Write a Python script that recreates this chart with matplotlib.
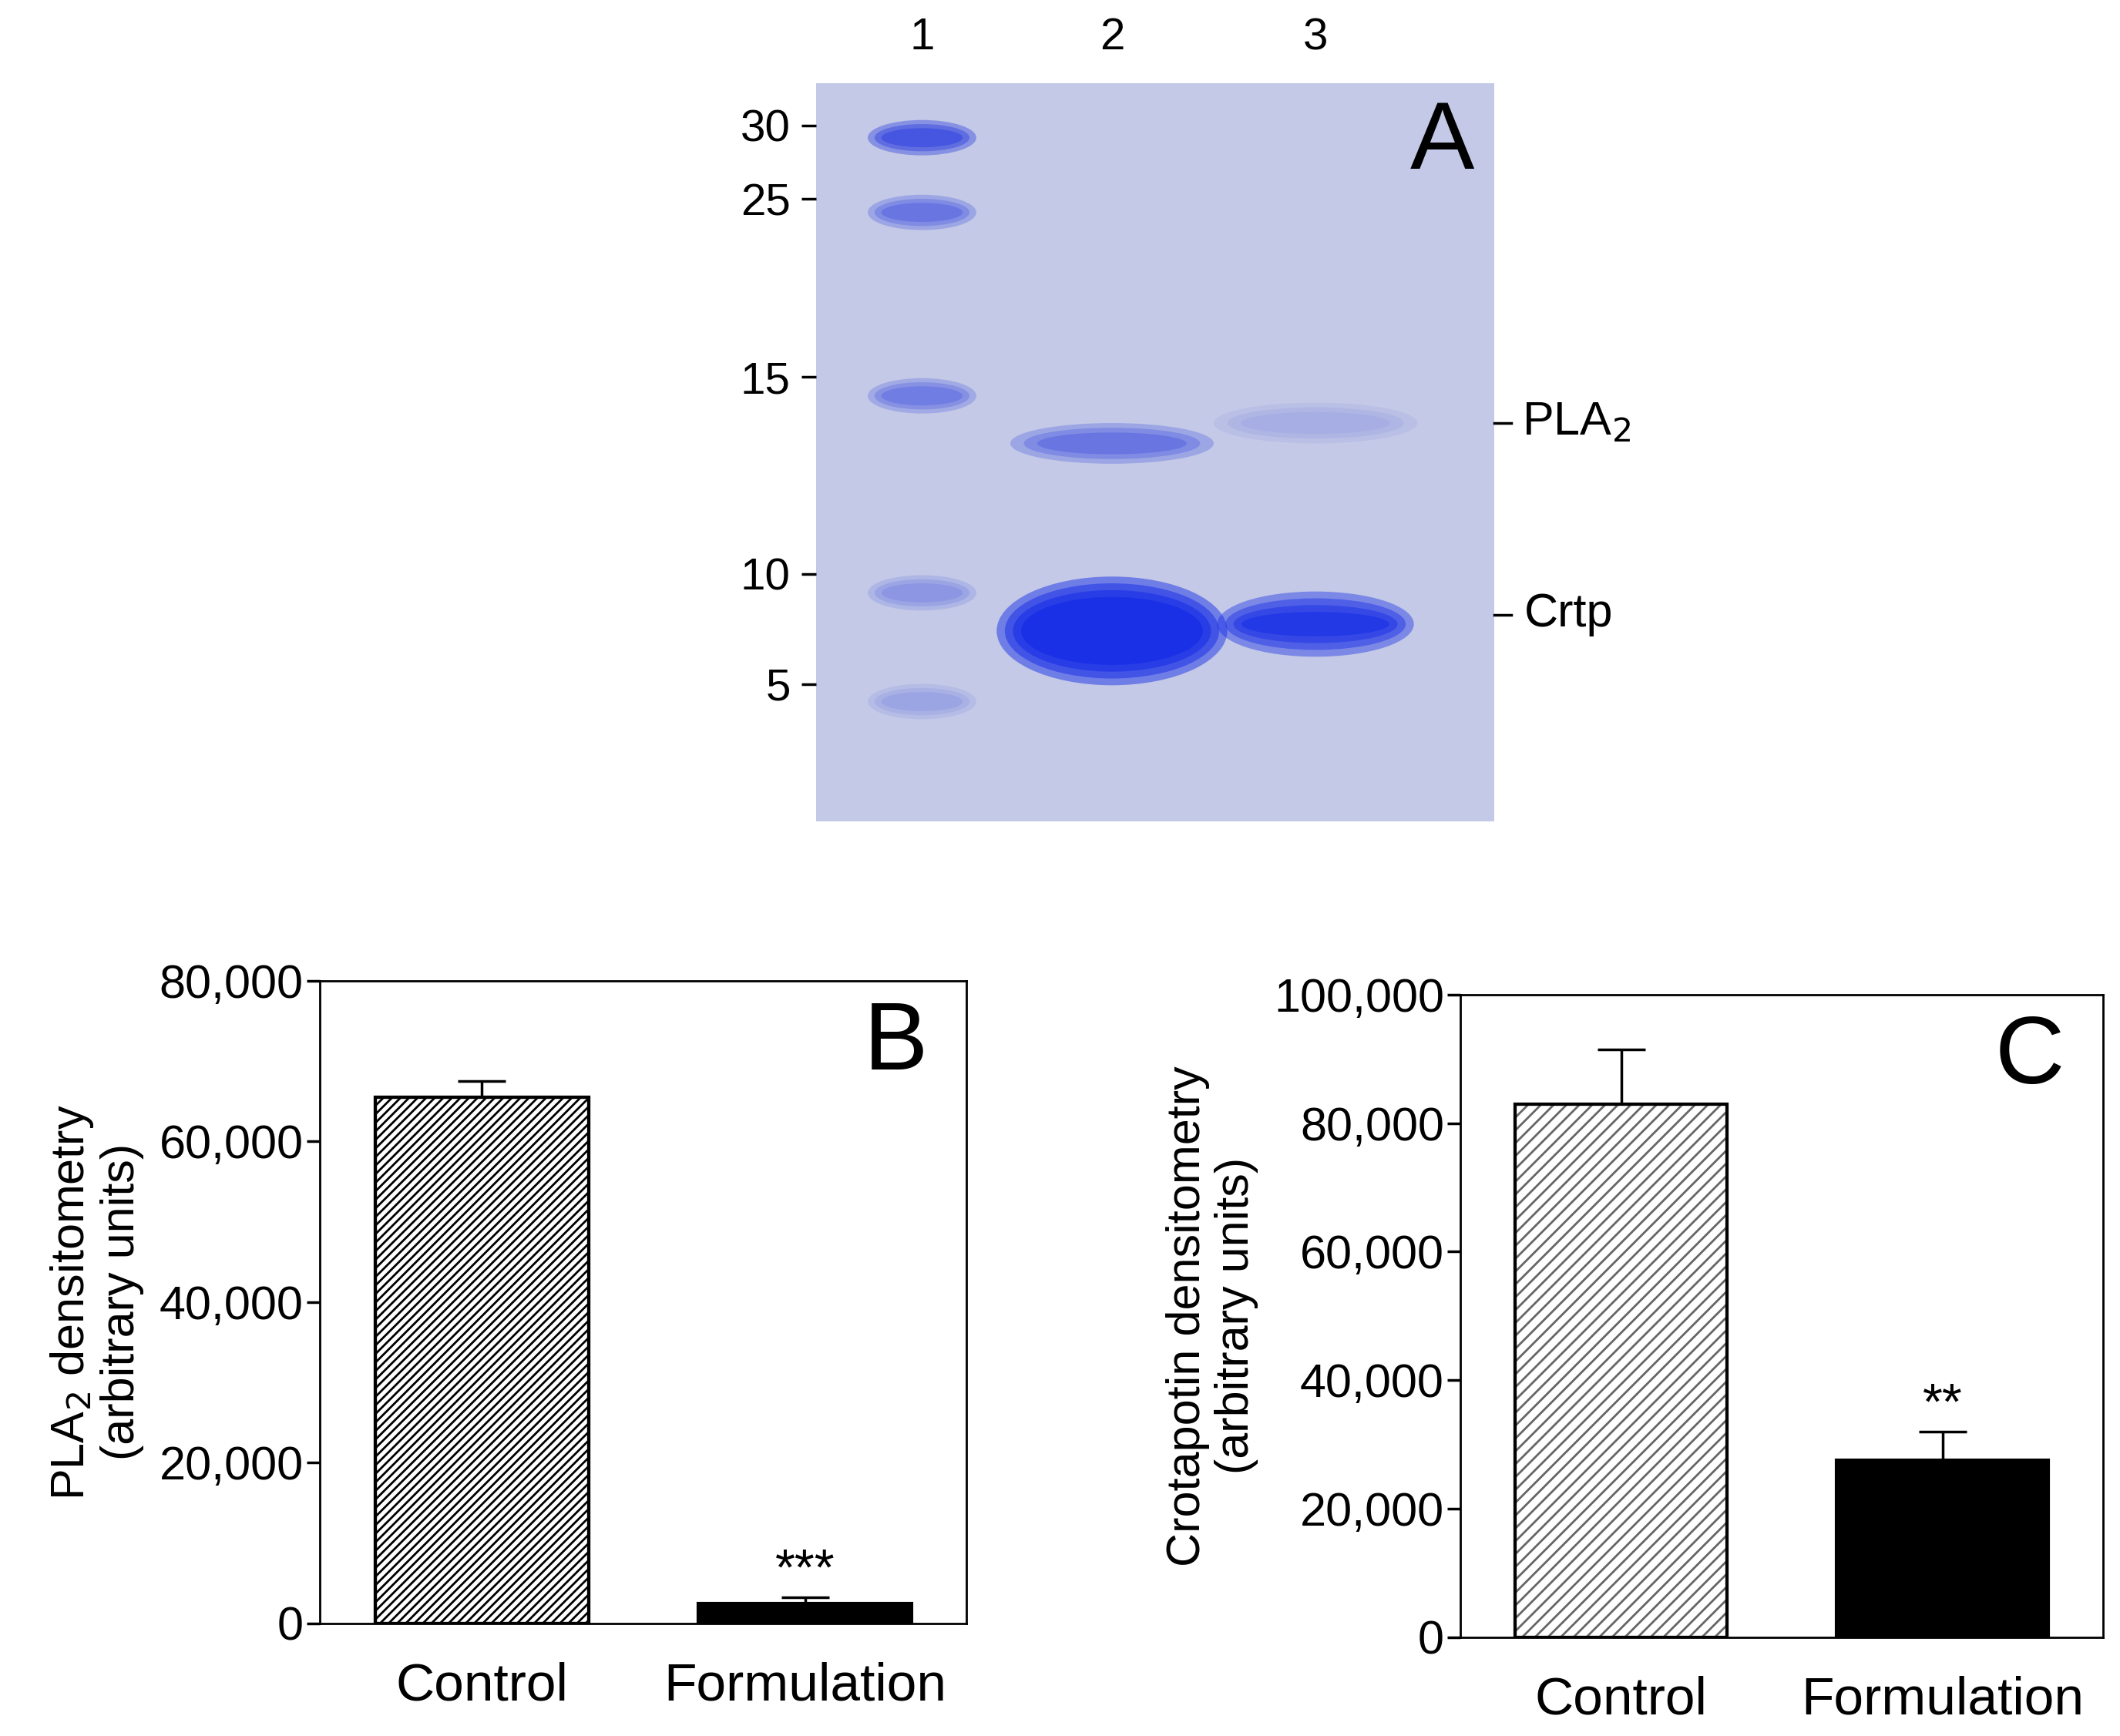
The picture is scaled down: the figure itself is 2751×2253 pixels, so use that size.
import matplotlib
matplotlib.use("Agg")
import matplotlib.pyplot as plt
from matplotlib.patches import Ellipse

plt.rcParams['font.family'] = ['Liberation Sans', 'DejaVu Sans']

# Gel data
marker_kda = [30, 25, 15, 10, 5]
marker_tick_y = [31, 85, 216, 361, 442]
lane_labels = ["1", "2", "3"]
lane_x = [78, 218, 368]
marker_band_y = [40, 95, 230, 375, 455]
marker_band_alpha = [0.9, 0.55, 0.5, 0.3, 0.2]
pla2_y = [265, 250]
pla2_alpha = [0.55, 0.15]
crtp_y = [403, 398]
crtp_alpha = [1.0, 0.85]

# Bar data
categories = ["Control", "Formulation"]
pla2_vals = [65500, 2500]
pla2_err = [2000, 700]
crtp_vals = [83000, 27500]
crtp_err = [8500, 4500]

fig = plt.figure(figsize=(27.51, 22.53), dpi=100)

# ---- Panel A ----
axg = fig.add_axes([0.385, 0.527, 0.32, 0.425])
axg.set_xlim(0, 500); axg.set_ylim(543, 0)
axg.set_facecolor('#c3c9e6')
for s in axg.spines.values(): s.set_visible(False)
axg.set_xticks([])
axg.set_yticks(marker_tick_y)
axg.set_yticklabels([str(k) for k in marker_kda], fontsize=42)
axg.tick_params(axis='y', length=14, width=2.5, pad=10)
blue = '#1a2ee0'
for y, a in zip(marker_band_y, marker_band_alpha):
    for k in range(3):
        axg.add_patch(Ellipse((lane_x[0], y), 80 - k*10, 26 - k*6, color=blue, alpha=a*0.4, lw=0))
for x, y, a in zip(lane_x[1:], pla2_y, pla2_alpha):
    for k in range(3):
        axg.add_patch(Ellipse((x, y), 150 - k*20, 30 - k*7, color=blue, alpha=a*0.4, lw=0))
crtp_w = [170, 145]; crtp_h = [80, 48]
for x, y, a, w, h in zip(lane_x[1:], crtp_y, crtp_alpha, crtp_w, crtp_h):
    for k in range(4):
        axg.add_patch(Ellipse((x, y), w - k*12, h - k*10, color='#0a22e6', alpha=a*0.45, lw=0))
for x, l in zip(lane_x, lane_labels):
    axg.text(x, -18, l, ha='center', va='bottom', fontsize=42)
axg.text(485, 45, "A", ha='right', va='center', fontsize=90)
axg.plot([500, 512], [250, 250], color='k', lw=2.5, clip_on=False)
axg.plot([500, 512], [391, 391], color='k', lw=2.5, clip_on=False)
axg.text(520, 250, "PLA$_2$", ha='left', va='center', fontsize=44)
axg.text(522, 391, "Crtp", ha='left', va='center', fontsize=44)

plt.rcParams['hatch.linewidth'] = 2

def bar_panel(rect, vals, errs, ylim, yt, hcol, hatch, ylabel, stars, letter):
    ax = fig.add_axes(rect)
    x = [0, 1]
    b = ax.bar(x, vals, width=0.66, color=['white', 'black'], edgecolor='black', lw=3, zorder=2)
    b[0].set_hatch(hatch)
    b[0].set_edgecolor(hcol)
    ax.bar([0], [vals[0]], width=0.66, fill=False, edgecolor='black', lw=3, zorder=3)
    ax.errorbar(x, vals, yerr=[[0, 0], errs], fmt='none', ecolor='black', elinewidth=2.5, capsize=22, capthick=2.5, zorder=1)
    ax.set_xlim(-0.5, 1.5); ax.set_ylim(*ylim)
    ax.set_yticks(yt)
    ax.set_yticklabels([f"{v:,}" for v in yt], fontsize=44)
    ax.set_xticks(x); ax.set_xticklabels(categories, fontsize=50)
    ax.tick_params(axis='x', length=0, pad=36)
    ax.tick_params(axis='y', length=12, width=2.5)
    for s in ax.spines.values(): s.set_linewidth(2)
    ax.set_ylabel(ylabel, fontsize=44, labelpad=14, linespacing=1.15)
    ax.text(1, vals[1] + errs[1] + ylim[1]*0.003, stars, ha='center', va='bottom', fontsize=48)
    ax.text(0.94, 0.9, letter, transform=ax.transAxes, ha='right', va='center', fontsize=90)
    return ax

bar_panel([0.151, 0.065, 0.305, 0.37], pla2_vals, pla2_err, (0, 80000),
          [0, 20000, 40000, 60000, 80000], 'black', '///',
          "PLA$_2$ densitometry\n(arbitrary units)", "***", "B")
bar_panel([0.689, 0.057, 0.303, 0.37], crtp_vals, crtp_err, (0, 100000),
          [0, 20000, 40000, 60000, 80000, 100000], '#666666', '//',
          "Crotapotin densitometry\n(arbitrary units)", "**", "C")

fig.savefig("out.png", dpi=100)
